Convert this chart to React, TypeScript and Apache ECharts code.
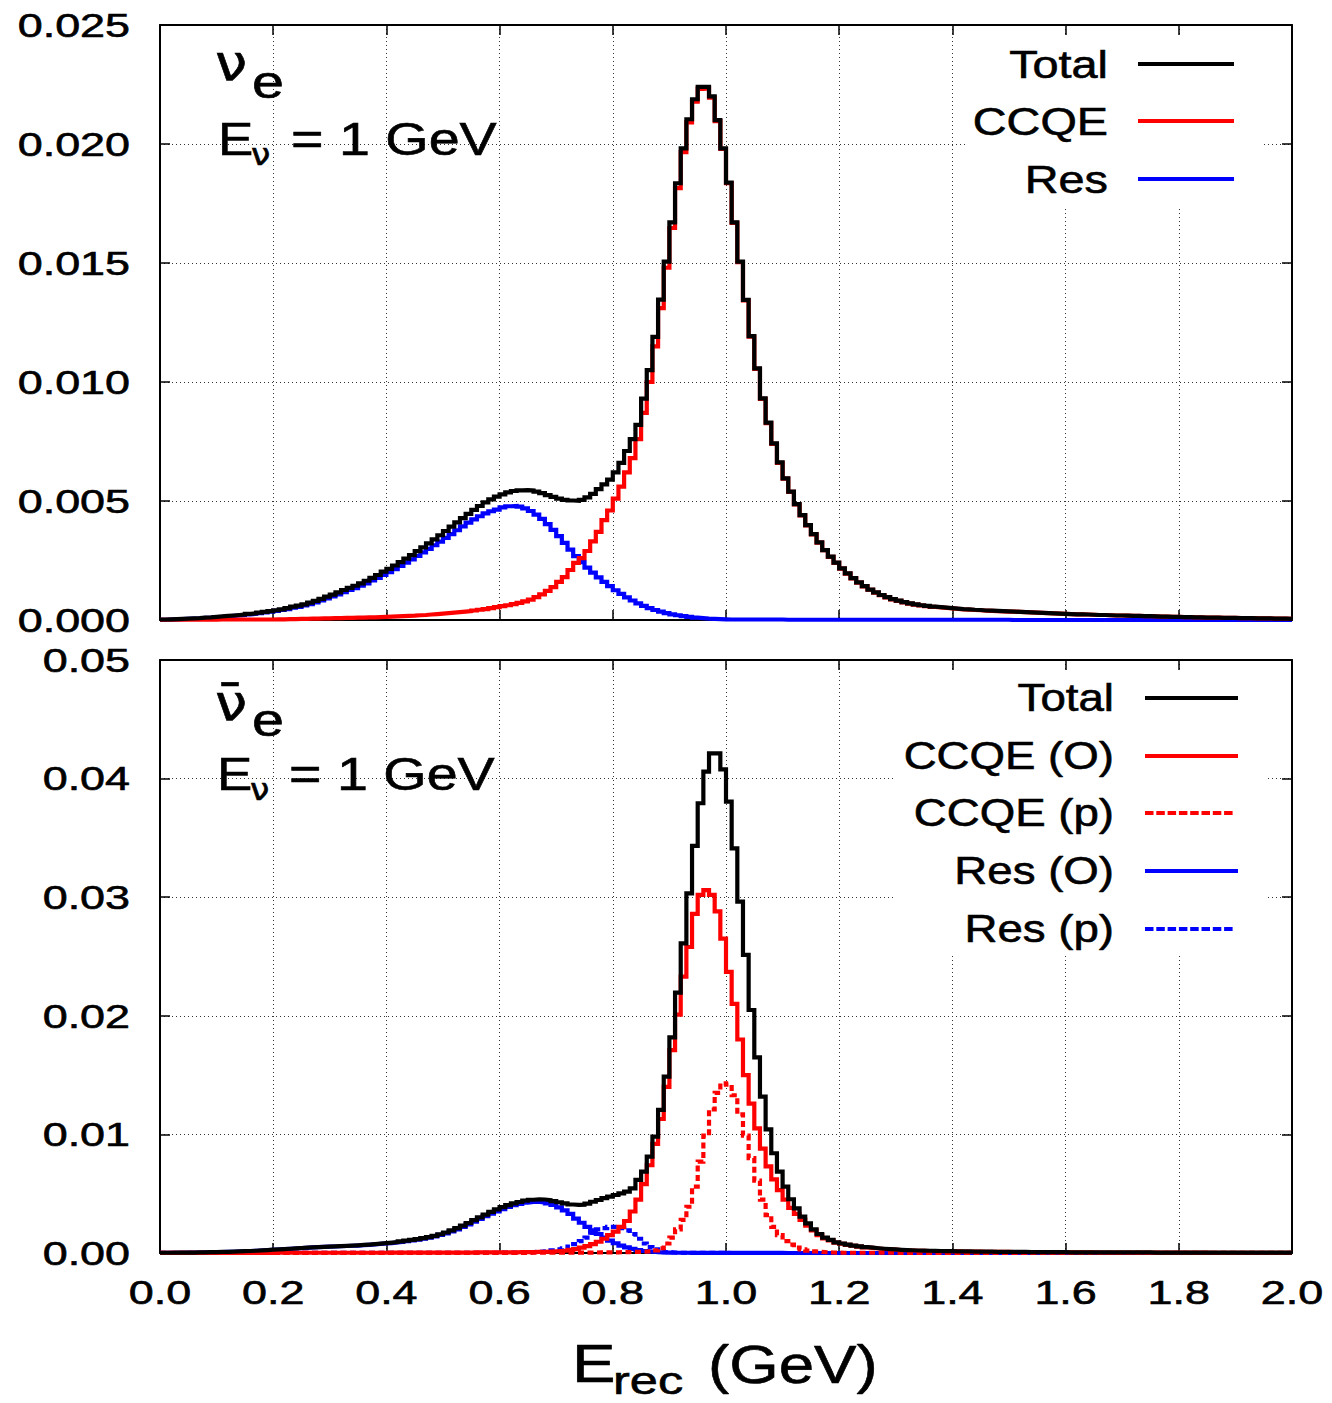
import React, { useEffect, useRef } from 'react';
import * as echarts from 'echarts';

// ---------------- data ----------------
const BIN_WIDTH = 0.01; // GeV, histogram bin width (bins start at 0.00)

const X_TICKS = [0, 0.2, 0.4, 0.6, 0.8, 1.0, 1.2, 1.4, 1.6, 1.8, 2.0];
const X_TICK_LABELS = ['0.0', '0.2', '0.4', '0.6', '0.8', '1.0', '1.2', '1.4', '1.6', '1.8', '2.0'];
const TOP_Y_TICKS = [0, 0.005, 0.01, 0.015, 0.02, 0.025];
const TOP_Y_TICK_LABELS = ['0.000', '0.005', '0.010', '0.015', '0.020', '0.025'];
const BOT_Y_TICKS = [0, 0.01, 0.02, 0.03, 0.04, 0.05];
const BOT_Y_TICK_LABELS = ['0.00', '0.01', '0.02', '0.03', '0.04', '0.05'];

const TOP_LEGEND = ['Total', 'CCQE', 'Res'];
const BOT_LEGEND = ['Total', 'CCQE (O)', 'CCQE (p)', 'Res (O)', 'Res (p)'];

// nu_e, E_nu = 1 GeV
const TOP_TOTAL = [
  0.00002, 0.00003, 0.00004, 0.00005, 0.00006, 0.00007, 0.00008, 0.0001, 0.00011, 0.00013,
  0.00015, 0.00017, 0.00019, 0.00021, 0.00023, 0.00026, 0.00028, 0.00031, 0.00034, 0.00037,
  0.00041, 0.00045, 0.0005, 0.00056, 0.0006, 0.00066, 0.00073, 0.0008, 0.00089, 0.00098,
  0.00107, 0.00116, 0.00126, 0.00135, 0.00144, 0.00154, 0.00165, 0.00177, 0.00189, 0.00203,
  0.00215, 0.00229, 0.00243, 0.00258, 0.00273, 0.00289, 0.00305, 0.00322, 0.00339, 0.00356,
  0.00374, 0.00392, 0.0041, 0.00428, 0.00446, 0.00463, 0.00479, 0.00494, 0.00507, 0.00518,
  0.00528, 0.00536, 0.00542, 0.00545, 0.00546, 0.00544, 0.00539, 0.00533, 0.00525, 0.00517,
  0.0051, 0.00505, 0.00502, 0.00501, 0.00505, 0.00515, 0.0053, 0.0055, 0.0057, 0.0059,
  0.0062, 0.0066, 0.0071, 0.0076, 0.0082, 0.0093, 0.0105, 0.0119, 0.01346, 0.01506,
  0.01671, 0.01835, 0.01982, 0.02104, 0.02188, 0.0224, 0.0224, 0.022, 0.021, 0.01982,
  0.01838, 0.01671, 0.01506, 0.01345, 0.01193, 0.01057, 0.00931, 0.00829, 0.00742, 0.00662,
  0.00595, 0.00539, 0.00487, 0.00441, 0.00399, 0.00361, 0.00326, 0.00294, 0.00266, 0.00241,
  0.00217, 0.00196, 0.00176, 0.00158, 0.00142, 0.00128, 0.00116, 0.00105, 0.00096, 0.00088,
  0.00081, 0.00075, 0.0007, 0.00066, 0.00062, 0.00059, 0.00056, 0.00054, 0.00052, 0.0005,
  0.00048, 0.00046, 0.00045, 0.00043, 0.00042, 0.0004, 0.00039, 0.00038, 0.00037, 0.00036,
  0.00035, 0.00034, 0.00033, 0.00032, 0.00031, 0.0003, 0.00029, 0.00028, 0.00027, 0.00026,
  0.00025, 0.00024, 0.00024, 0.00023, 0.00022, 0.00021, 0.00021, 0.0002, 0.00019, 0.00019,
  0.00018, 0.00017, 0.00017, 0.00016, 0.00016, 0.00015, 0.00014, 0.00014, 0.00013, 0.00013,
  0.00012, 0.00012, 0.00011, 0.00011, 0.0001, 0.0001, 0.0001, 0.00009, 0.00009, 0.00009,
  0.00008, 0.00008, 0.00008, 0.00007, 0.00007, 0.00007, 0.00006, 0.00006, 0.00006, 0.00005,
];

const TOP_CCQE = [
  0.00001, 0.00001, 0.00001, 0.00001, 0.00001, 0.00001, 0.00001, 0.00001, 0.00001, 0.00001,
  0.00002, 0.00002, 0.00002, 0.00002, 0.00002, 0.00002, 0.00002, 0.00002, 0.00002, 0.00002,
  0.00003, 0.00003, 0.00004, 0.00004, 0.00005, 0.00005, 0.00006, 0.00006, 0.00007, 0.00007,
  0.00008, 0.00008, 0.00009, 0.00009, 0.0001, 0.0001, 0.00011, 0.00011, 0.00012, 0.00013,
  0.00014, 0.00015, 0.00016, 0.00017, 0.00018, 0.0002, 0.00021, 0.00023, 0.00025, 0.00027,
  0.00029, 0.00031, 0.00033, 0.00035, 0.00037, 0.0004, 0.00043, 0.00046, 0.0005, 0.00054,
  0.00058, 0.00062, 0.00067, 0.00072, 0.00078, 0.00086, 0.00096, 0.00108, 0.00122, 0.00138,
  0.0016, 0.0018, 0.0021, 0.0024, 0.0026, 0.0029, 0.0033, 0.0037, 0.0042, 0.0046,
  0.0051, 0.0056, 0.0062, 0.0068, 0.0076, 0.0087, 0.01, 0.0115, 0.0131, 0.0148,
  0.01647, 0.01815, 0.01966, 0.02091, 0.02178, 0.02232, 0.02234, 0.02195, 0.02096, 0.01979,
  0.01836, 0.01669, 0.01504, 0.01343, 0.01191, 0.01055, 0.00929, 0.00827, 0.0074, 0.0066,
  0.00594, 0.00538, 0.00486, 0.0044, 0.00398, 0.0036, 0.00325, 0.00293, 0.00265, 0.0024,
  0.00216, 0.00195, 0.00175, 0.00157, 0.00141, 0.00127, 0.00115, 0.00104, 0.00095, 0.00087,
  0.0008, 0.00074, 0.00069, 0.00065, 0.00061, 0.00058, 0.00055, 0.00053, 0.00051, 0.00049,
  0.00047, 0.00045, 0.00044, 0.00042, 0.00041, 0.00039, 0.00038, 0.00037, 0.00036, 0.00035,
  0.00035, 0.00034, 0.00033, 0.00032, 0.00031, 0.0003, 0.00029, 0.00028, 0.00027, 0.00026,
  0.00025, 0.00024, 0.00024, 0.00023, 0.00022, 0.00021, 0.00021, 0.0002, 0.00019, 0.00019,
  0.00018, 0.00017, 0.00017, 0.00016, 0.00016, 0.00015, 0.00014, 0.00014, 0.00013, 0.00013,
  0.00012, 0.00012, 0.00011, 0.00011, 0.0001, 0.0001, 0.0001, 0.00009, 0.00009, 0.00009,
  0.00008, 0.00008, 0.00008, 0.00007, 0.00007, 0.00007, 0.00006, 0.00006, 0.00006, 0.00005,
];

const TOP_RES = [
  0.00001, 0.00002, 0.00003, 0.00004, 0.00005, 0.00006, 0.00007, 0.00009, 0.0001, 0.00012,
  0.00013, 0.00015, 0.00017, 0.00019, 0.00021, 0.00024, 0.00026, 0.00029, 0.00032, 0.00035,
  0.00038, 0.00042, 0.00046, 0.00052, 0.00055, 0.00061, 0.00067, 0.00074, 0.00082, 0.00091,
  0.00099, 0.00108, 0.00117, 0.00126, 0.00134, 0.00144, 0.00154, 0.00166, 0.00177, 0.0019,
  0.00201, 0.00214, 0.00227, 0.00241, 0.00255, 0.00269, 0.00284, 0.00299, 0.00314, 0.00329,
  0.00345, 0.00361, 0.00377, 0.00393, 0.00409, 0.00423, 0.00436, 0.00448, 0.00457, 0.00464,
  0.00473, 0.00478, 0.00479, 0.00476, 0.00469, 0.00458, 0.00443, 0.00425, 0.00403, 0.00379,
  0.00352, 0.00324, 0.00296, 0.00268, 0.00243, 0.0022, 0.00199, 0.00179, 0.0016, 0.00142,
  0.00125, 0.0011, 0.00095, 0.00082, 0.0007, 0.00059, 0.0005, 0.00042, 0.00035, 0.00029,
  0.00024, 0.0002, 0.00016, 0.00013, 0.0001, 0.00008, 0.00006, 0.00005, 0.00004, 0.00003,
  0.00002, 0.00002, 0.00002, 0.00002, 0.00002, 0.00002, 0.00002, 0.00002, 0.00002, 0.00002,
  0.00001, 0.00001, 0.00001, 0.00001, 0.00001, 0.00001, 0.00001, 0.00001, 0.00001, 0.00001,
  0.00001, 0.00001, 0.00001, 0.00001, 0.00001, 0.00001, 0.00001, 0.00001, 0.00001, 0.00001,
  0.00001, 0.00001, 0.00001, 0.00001, 0.00001, 0.00001, 0.00001, 0.00001, 0.00001, 0.00001,
  0.00001, 0.00001, 0.00001, 0.00001, 0.00001, 0.00001, 0.00001, 0.00001, 0.00001, 0.00001,
  0, 0, 0, 0, 0, 0, 0, 0, 0, 0,
  0, 0, 0, 0, 0, 0, 0, 0, 0, 0,
  0, 0, 0, 0, 0, 0, 0, 0, 0, 0,
  0, 0, 0, 0, 0, 0, 0, 0, 0, 0,
  0, 0, 0, 0, 0, 0, 0, 0, 0, 0,
];

// anti-nu_e, E_nu = 1 GeV
const BOT_TOTAL = [
  0.00002, 0.00002, 0.00003, 0.00003, 0.00004, 0.00004, 0.00005, 0.00006, 0.00007, 0.00008,
  0.00009, 0.0001, 0.00011, 0.00013, 0.00015, 0.00017, 0.00019, 0.00022, 0.00025, 0.00028,
  0.0003, 0.00033, 0.00036, 0.00039, 0.00042, 0.00045, 0.00048, 0.0005, 0.00052, 0.00054,
  0.00056, 0.00058, 0.0006, 0.00062, 0.00065, 0.00068, 0.00071, 0.00075, 0.00079, 0.00083,
  0.00087, 0.00092, 0.00098, 0.00104, 0.0011, 0.00117, 0.00125, 0.00134, 0.00145, 0.00158,
  0.00173, 0.0019, 0.00209, 0.0023, 0.00253, 0.00277, 0.003, 0.00323, 0.00346, 0.00367,
  0.00386, 0.00403, 0.00418, 0.0043, 0.00441, 0.00449, 0.00452, 0.00451, 0.00446, 0.00438,
  0.00428, 0.00418, 0.00409, 0.00405, 0.00407, 0.00416, 0.00432, 0.00447, 0.00462, 0.00476,
  0.00489, 0.00503, 0.00517, 0.00545, 0.00616, 0.00686, 0.00812, 0.00981, 0.01206, 0.01487,
  0.01818, 0.02195, 0.02611, 0.03033, 0.03432, 0.03792, 0.04058, 0.04213, 0.04213, 0.04078,
  0.03806, 0.03412, 0.02962, 0.02513, 0.02049, 0.0165, 0.01318, 0.01043, 0.00841, 0.00686,
  0.00559, 0.00453, 0.00377, 0.00306, 0.0025, 0.002, 0.0016, 0.0013, 0.0011, 0.0009,
  0.0008, 0.0007, 0.00063, 0.00056, 0.0005, 0.00045, 0.0004, 0.00036, 0.00033, 0.0003,
  0.00027, 0.00025, 0.00023, 0.00021, 0.0002, 0.00019, 0.00018, 0.00017, 0.00016, 0.00015,
  0.00014, 0.00013, 0.00013, 0.00012, 0.00012, 0.00011, 0.00011, 0.0001, 0.0001, 0.0001,
  0.00009, 0.00009, 0.00009, 0.00008, 0.00008, 0.00008, 0.00007, 0.00007, 0.00007, 0.00007,
  0.00006, 0.00006, 0.00006, 0.00006, 0.00006, 0.00005, 0.00005, 0.00005, 0.00005, 0.00005,
  0.00005, 0.00005, 0.00005, 0.00005, 0.00005, 0.00004, 0.00004, 0.00004, 0.00004, 0.00004,
  0.00004, 0.00004, 0.00004, 0.00004, 0.00004, 0.00003, 0.00003, 0.00003, 0.00003, 0.00003,
  0.00003, 0.00003, 0.00003, 0.00003, 0.00003, 0.00003, 0.00003, 0.00003, 0.00003, 0.00003,
];

const BOT_CCQE_O = [
  0.00001, 0.00001, 0.00001, 0.00001, 0.00001, 0.00001, 0.00001, 0.00001, 0.00001, 0.00001,
  0.00001, 0.00001, 0.00001, 0.00001, 0.00001, 0.00001, 0.00001, 0.00001, 0.00001, 0.00001,
  0.00002, 0.00002, 0.00002, 0.00002, 0.00002, 0.00002, 0.00002, 0.00002, 0.00002, 0.00002,
  0.00002, 0.00002, 0.00002, 0.00002, 0.00002, 0.00002, 0.00002, 0.00002, 0.00002, 0.00002,
  0.00003, 0.00003, 0.00003, 0.00003, 0.00003, 0.00003, 0.00003, 0.00003, 0.00003, 0.00003,
  0.00004, 0.00004, 0.00004, 0.00004, 0.00004, 0.00005, 0.00005, 0.00005, 0.00005, 0.00005,
  0.00005, 0.00006, 0.00006, 0.00007, 0.00007, 0.00008, 0.00009, 0.0001, 0.00012, 0.00014,
  0.00017, 0.0002, 0.00026, 0.00032, 0.00045, 0.00058, 0.00075, 0.00095, 0.0012, 0.0015,
  0.0018, 0.0022, 0.0027, 0.0035, 0.0045, 0.0058, 0.0074, 0.0092, 0.0113, 0.014,
  0.0171, 0.0201, 0.0233, 0.0258, 0.0286, 0.0302, 0.0306, 0.0302, 0.0288, 0.0265,
  0.0237, 0.021, 0.018, 0.015, 0.0126, 0.0105, 0.0088, 0.0073, 0.0062, 0.0053,
  0.0045, 0.0038, 0.0033, 0.0028, 0.0023, 0.0019, 0.0015, 0.00124, 0.00106, 0.00087,
  0.00078, 0.00068, 0.00061, 0.00054, 0.00048, 0.00043, 0.00038, 0.00034, 0.00031, 0.00028,
  0.00025, 0.00023, 0.00021, 0.00019, 0.00018, 0.00017, 0.00016, 0.00015, 0.00014, 0.00013,
  0.00013, 0.00012, 0.00012, 0.00011, 0.00011, 0.0001, 0.0001, 0.00009, 0.00009, 0.00009,
  0.00008, 0.00008, 0.00008, 0.00007, 0.00007, 0.00007, 0.00006, 0.00006, 0.00006, 0.00006,
  0.00005, 0.00005, 0.00005, 0.00005, 0.00005, 0.00004, 0.00004, 0.00004, 0.00004, 0.00004,
  0.00004, 0.00004, 0.00004, 0.00004, 0.00004, 0.00003, 0.00003, 0.00003, 0.00003, 0.00003,
  0.00003, 0.00003, 0.00003, 0.00003, 0.00003, 0.00002, 0.00002, 0.00002, 0.00002, 0.00002,
  0.00002, 0.00002, 0.00002, 0.00002, 0.00002, 0.00002, 0.00002, 0.00002, 0.00002, 0.00002,
];

const BOT_CCQE_P = [
  0.00001, 0.00001, 0.00001, 0.00001, 0.00001, 0.00001, 0.00001, 0.00001, 0.00001, 0.00001,
  0.00001, 0.00001, 0.00001, 0.00001, 0.00001, 0.00001, 0.00001, 0.00001, 0.00001, 0.00001,
  0.00001, 0.00001, 0.00001, 0.00001, 0.00001, 0.00001, 0.00001, 0.00001, 0.00001, 0.00001,
  0.00001, 0.00001, 0.00001, 0.00001, 0.00001, 0.00001, 0.00001, 0.00001, 0.00001, 0.00001,
  0.00001, 0.00001, 0.00001, 0.00001, 0.00001, 0.00001, 0.00001, 0.00001, 0.00001, 0.00001,
  0.00001, 0.00001, 0.00001, 0.00001, 0.00001, 0.00001, 0.00001, 0.00001, 0.00001, 0.00001,
  0.00001, 0.00001, 0.00001, 0.00001, 0.00001, 0.00002, 0.00002, 0.00002, 0.00002, 0.00002,
  0.00002, 0.00002, 0.00003, 0.00003, 0.00003, 0.00004, 0.00004, 0.00005, 0.00005, 0.00006,
  0.00006, 0.00007, 0.00008, 0.00009, 0.0001, 0.00012, 0.00015, 0.00022, 0.0004, 0.0008,
  0.0013, 0.002, 0.0028, 0.0039, 0.0056, 0.0077, 0.0099, 0.0121, 0.0135, 0.0143,
  0.0142, 0.0133, 0.0117, 0.0099, 0.008, 0.0061, 0.0045, 0.0032, 0.0022, 0.0015,
  0.001, 0.0007, 0.00045, 0.0003, 0.0002, 0.00013, 0.00009, 0.00006, 0.00004, 0.00003,
  0.00002, 0.00002, 0.00002, 0.00002, 0.00002, 0.00002, 0.00002, 0.00002, 0.00002, 0.00002,
  0.00001, 0.00001, 0.00001, 0.00001, 0.00001, 0.00001, 0.00001, 0.00001, 0.00001, 0.00001,
  0.00001, 0.00001, 0.00001, 0.00001, 0.00001, 0.00001, 0.00001, 0.00001, 0.00001, 0.00001,
  0.00001, 0.00001, 0.00001, 0.00001, 0.00001, 0.00001, 0.00001, 0.00001, 0.00001, 0.00001,
  0.00001, 0.00001, 0.00001, 0.00001, 0.00001, 0.00001, 0.00001, 0.00001, 0.00001, 0.00001,
  0.00001, 0.00001, 0.00001, 0.00001, 0.00001, 0.00001, 0.00001, 0.00001, 0.00001, 0.00001,
  0.00001, 0.00001, 0.00001, 0.00001, 0.00001, 0.00001, 0.00001, 0.00001, 0.00001, 0.00001,
  0.00001, 0.00001, 0.00001, 0.00001, 0.00001, 0.00001, 0.00001, 0.00001, 0.00001, 0.00001,
];

const BOT_RES_O = [
  0.00001, 0.00001, 0.00002, 0.00002, 0.00003, 0.00003, 0.00004, 0.00005, 0.00006, 0.00007,
  0.00008, 0.00009, 0.0001, 0.00012, 0.00014, 0.00016, 0.00018, 0.00021, 0.00024, 0.00027,
  0.00029, 0.00032, 0.00035, 0.00038, 0.00041, 0.00044, 0.00047, 0.00049, 0.00051, 0.00053,
  0.00055, 0.00057, 0.00059, 0.00061, 0.00063, 0.00066, 0.00069, 0.00073, 0.00077, 0.00081,
  0.00084, 0.00089, 0.00094, 0.001, 0.00106, 0.00113, 0.00121, 0.0013, 0.0014, 0.00152,
  0.00166, 0.00182, 0.002, 0.0022, 0.00242, 0.00265, 0.00288, 0.0031, 0.00331, 0.00351,
  0.0037, 0.00388, 0.00403, 0.00415, 0.00425, 0.0043, 0.0043, 0.00427, 0.00418, 0.00405,
  0.00385, 0.0036, 0.0033, 0.0029, 0.00255, 0.0022, 0.0019, 0.0016, 0.0013, 0.00105,
  0.00082, 0.00063, 0.00047, 0.00035, 0.00025, 0.00017, 0.00011, 0.00007, 0.00005, 0.00003,
  0.00002, 0.00002, 0.00002, 0.00001, 0.00001, 0.00001, 0.00001, 0.00001, 0.00001, 0.00001,
  0.00001, 0.00001, 0.00001, 0.00001, 0.00001, 0.00001, 0.00001, 0.00001, 0.00001, 0.00001,
  0, 0, 0, 0, 0, 0, 0, 0, 0, 0,
  0, 0, 0, 0, 0, 0, 0, 0, 0, 0,
  0, 0, 0, 0, 0, 0, 0, 0, 0, 0,
  0, 0, 0, 0, 0, 0, 0, 0, 0, 0,
  0, 0, 0, 0, 0, 0, 0, 0, 0, 0,
  0, 0, 0, 0, 0, 0, 0, 0, 0, 0,
  0, 0, 0, 0, 0, 0, 0, 0, 0, 0,
  0, 0, 0, 0, 0, 0, 0, 0, 0, 0,
  0, 0, 0, 0, 0, 0, 0, 0, 0, 0,
];

const BOT_RES_P = [
  0, 0, 0, 0, 0, 0, 0, 0, 0, 0,
  0.00001, 0.00001, 0.00001, 0.00001, 0.00001, 0.00001, 0.00001, 0.00001, 0.00001, 0.00001,
  0.00001, 0.00001, 0.00001, 0.00001, 0.00001, 0.00001, 0.00001, 0.00001, 0.00001, 0.00001,
  0.00001, 0.00001, 0.00001, 0.00001, 0.00001, 0.00001, 0.00001, 0.00001, 0.00001, 0.00001,
  0.00002, 0.00002, 0.00002, 0.00002, 0.00002, 0.00002, 0.00002, 0.00002, 0.00002, 0.00002,
  0.00002, 0.00002, 0.00002, 0.00002, 0.00002, 0.00002, 0.00002, 0.00002, 0.00002, 0.00002,
  0.00003, 0.00003, 0.00004, 0.00005, 0.00006, 0.00008, 0.0001, 0.00013, 0.00017, 0.00023,
  0.0003, 0.0004, 0.00055, 0.00075, 0.001, 0.0013, 0.0017, 0.002, 0.0021, 0.0022,
  0.0022, 0.0021, 0.0019, 0.0016, 0.0012, 0.0008, 0.0005, 0.0003, 0.00015, 0.00008,
  0.00004, 0.00002, 0.00001, 0.00001, 0.00001, 0.00001, 0.00001, 0.00001, 0.00001, 0.00001,
  0, 0, 0, 0, 0, 0, 0, 0, 0, 0,
  0, 0, 0, 0, 0, 0, 0, 0, 0, 0,
  0, 0, 0, 0, 0, 0, 0, 0, 0, 0,
  0, 0, 0, 0, 0, 0, 0, 0, 0, 0,
  0, 0, 0, 0, 0, 0, 0, 0, 0, 0,
  0, 0, 0, 0, 0, 0, 0, 0, 0, 0,
  0, 0, 0, 0, 0, 0, 0, 0, 0, 0,
  0, 0, 0, 0, 0, 0, 0, 0, 0, 0,
  0, 0, 0, 0, 0, 0, 0, 0, 0, 0,
  0, 0, 0, 0, 0, 0, 0, 0, 0, 0,
];

// ---------------- styling helpers ----------------
const BLACK = '#000000';
const RED = '#ff0000';
const BLUE = '#0000ff';
const LINE_W = 4.2;
const PLOT_DASH = [6, 3.5];
const LEGEND_DASH = [8.5, 2.8];
const SANS = 'Liberation Sans';
const GREEK = 'DejaVu Sans';

const gridLineStyle = { type: [1, 3], color: '#333333', width: 1 };

function xAxisDef(gridIndex: number, position: string, split: boolean) {
  return {
    type: 'value', gridIndex, position, min: 0, max: 2, interval: 0.2,
    axisLine: { show: true, onZero: false, lineStyle: { color: BLACK, width: 2 } },
    axisTick: { show: true, inside: true, length: 10, lineStyle: { color: BLACK, width: 1.5 } },
    axisLabel: { show: false },
    splitLine: split ? { show: true, lineStyle: gridLineStyle } : { show: false },
  };
}
function yAxisDef(gridIndex: number, position: string, max: number, interval: number, split: boolean) {
  return {
    type: 'value', gridIndex, position, min: 0, max, interval,
    axisLine: { show: true, onZero: false, lineStyle: { color: BLACK, width: 2 } },
    axisTick: { show: true, inside: true, length: 10, lineStyle: { color: BLACK, width: 1.5 } },
    axisLabel: { show: false },
    splitLine: split ? { show: true, lineStyle: gridLineStyle } : { show: false },
  };
}
function histSeries(name: string, vals: number[], xi: number, yi: number, color: string, dashed: boolean, z: number) {
  const data = vals.map((v, i) => [i * BIN_WIDTH, v]);
  data.push([vals.length * BIN_WIDTH, vals[vals.length - 1]]);
  return {
    name, type: 'line', xAxisIndex: xi, yAxisIndex: yi, step: 'end', data,
    symbol: 'none', showSymbol: false, silent: true, z,
    lineStyle: { color, width: LINE_W, type: dashed ? PLOT_DASH : 'solid', cap: 'butt', join: 'miter' },
  };
}
function txt(text: string, x: number, y: number, size: number, o: any = {}) {
  const align = o.align || 'left';
  return {
    type: 'text', x, y, scaleX: o.sx || 1, z: 30,
    style: {
      text, fontSize: size, fontFamily: o.ff || SANS, fill: BLACK,
      stroke: BLACK, lineWidth: o.sw == null ? 0.6 : o.sw,
      align, textAlign: align, verticalAlign: 'middle', textVerticalAlign: 'middle',
    },
  };
}
function legLine(x1: number, x2: number, y: number, color: string, dashed: boolean) {
  return {
    type: 'line', z: 30, shape: { x1, y1: y, x2, y2: y },
    style: { stroke: color, lineWidth: LINE_W, lineDash: dashed ? LEGEND_DASH : null },
  };
}

export default function App() {
  const ref = useRef<HTMLDivElement>(null);
  useEffect(() => {
    if (!ref.current) return;
    const chart = echarts.init(ref.current, null, { renderer: 'svg' });
    const option: any = {
      animation: false,
      backgroundColor: '#ffffff',
      grid: [
        { left: 160, right: 40, top: 25, height: 595 },
        { left: 160, right: 40, top: 660, height: 593 },
      ],
      xAxis: [
        xAxisDef(0, 'bottom', true),
        xAxisDef(0, 'top', false),
        xAxisDef(1, 'bottom', true),
        xAxisDef(1, 'top', false),
      ],
      yAxis: [
        yAxisDef(0, 'left', 0.025, 0.005, true),
        yAxisDef(0, 'right', 0.025, 0.005, false),
        yAxisDef(1, 'left', 0.05, 0.01, true),
        yAxisDef(1, 'right', 0.05, 0.01, false),
      ],
      series: [
        histSeries('Res', TOP_RES, 0, 0, BLUE, false, 10),
        histSeries('CCQE', TOP_CCQE, 0, 0, RED, false, 11),
        histSeries('Total', TOP_TOTAL, 0, 0, BLACK, false, 12),
        histSeries('Res (p)', BOT_RES_P, 2, 2, BLUE, true, 10),
        histSeries('Res (O)', BOT_RES_O, 2, 2, BLUE, false, 11),
        histSeries('CCQE (p)', BOT_CCQE_P, 2, 2, RED, true, 12),
        histSeries('CCQE (O)', BOT_CCQE_O, 2, 2, RED, false, 13),
        histSeries('Total ', BOT_TOTAL, 2, 2, BLACK, false, 14),
      ],
    };
    chart.setOption(option);

    const g: any[] = [];
    // legend backgrounds (opaque key boxes hide the grid)
    g.push({ type: 'rect', z: 5, shape: { x: 965, y: 36, width: 297, height: 170 }, style: { fill: '#ffffff' } });
    g.push({ type: 'rect', z: 5, shape: { x: 893, y: 670, width: 373, height: 285 }, style: { fill: '#ffffff' } });

    // top legend
    const topRows = [64, 121, 179];
    const topColors = [BLACK, RED, BLUE];
    TOP_LEGEND.forEach((name, i) => {
      g.push(txt(name, 1108, topRows[i], 39, { align: 'right', sx: 1.2 }));
      g.push(legLine(1138, 1234, topRows[i], topColors[i], false));
    });
    // bottom legend
    const botRows = [698, 756, 813, 871, 929];
    const botColors = [BLACK, RED, RED, BLUE, BLUE];
    const botDash = [false, false, true, false, true];
    BOT_LEGEND.forEach((name, i) => {
      g.push(txt(name, 1114, botRows[i], 39, { align: 'right', sx: 1.17 }));
      g.push(legLine(1145, botDash[i] ? 1234 : 1238, botRows[i], botColors[i], botDash[i]));
    });

    // panel annotations
    g.push(txt('\u03BD', 215, 63, 50, { ff: GREEK, sx: 1.15 }));
    g.push(txt('e', 252, 82, 46, { sx: 1.25 }));
    g.push(txt('E', 218, 139, 46, { sx: 1.15 }));
    g.push(txt('\u03BD', 251, 155, 30, { ff: GREEK, sx: 1.15 }));
    g.push(txt('= 1 GeV', 291, 139, 46, { sx: 1.21 }));

    g.push(txt('\u03BD\u0304', 215, 703, 50, { ff: GREEK, sx: 1.15 }));
    g.push(txt('e', 252, 720, 46, { sx: 1.25 }));
    g.push(txt('E', 217, 774, 46, { sx: 1.15 }));
    g.push(txt('\u03BD', 250, 790, 30, { ff: GREEK, sx: 1.15 }));
    g.push(txt('= 1 GeV', 289, 774, 46, { sx: 1.21 }));

    // x-axis title
    g.push(txt('E', 572, 1364, 53, { sx: 1.23 }));
    g.push(txt('rec', 613, 1381, 38, { sx: 1.33 }));
    g.push(txt('(GeV)', 708, 1364, 53, { sx: 1.2 }));

    // tick labels, positioned with the axes' own scales
    X_TICKS.forEach((v, i) => {
      const px = chart.convertToPixel({ xAxisIndex: 2 } as any, v) as any as number;
      g.push(txt(X_TICK_LABELS[i], px, 1292, 33, { align: 'center', sx: 1.36 }));
    });
    TOP_Y_TICKS.forEach((v, i) => {
      const py = chart.convertToPixel({ yAxisIndex: 0 } as any, v) as any as number;
      g.push(txt(TOP_Y_TICK_LABELS[i], 130, py, 33, { align: 'right', sx: 1.36 }));
    });
    BOT_Y_TICKS.forEach((v, i) => {
      const py = chart.convertToPixel({ yAxisIndex: 2 } as any, v) as any as number;
      g.push(txt(BOT_Y_TICK_LABELS[i], 130, py, 33, { align: 'right', sx: 1.36 }));
    });

    chart.setOption({ graphic: g });
    return () => chart.dispose();
  }, []);
  return (
    <div
      ref={ref}
      style={{ position: 'absolute', left: 0, top: 0, width: 1332, height: 1403, background: '#ffffff' }}
    />
  );
}
